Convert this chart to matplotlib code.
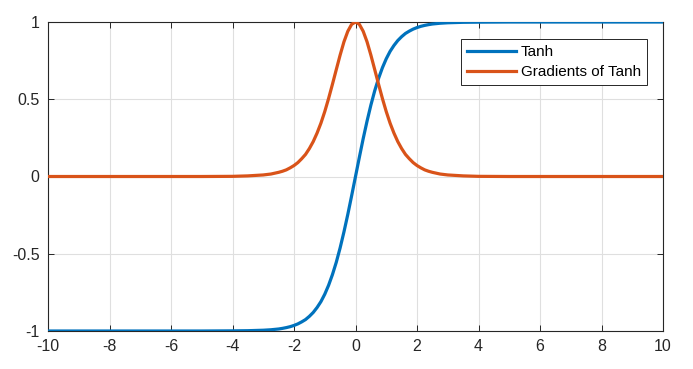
import matplotlib.pyplot as plt

# values
x = [-10, -8, -6, -5, -4, -3.5, -3, -2.75, -2.5, -2.375, -2.25, -2.125, -2,
     -1.875, -1.75, -1.625, -1.5, -1.375, -1.25, -1.125,
     -1, -0.875, -0.75, -0.625, -0.5, -0.375, -0.25, -0.125, 0,
     0.125, 0.25, 0.375, 0.5, 0.625, 0.75, 0.875, 1,
     1.125, 1.25, 1.375, 1.5, 1.625, 1.75, 1.875, 2, 2.125, 2.25, 2.375, 2.5,
     2.75, 3, 3.5, 4, 5, 6, 8, 10]
tanh_y = [-1.0, -1.0, -1.0, -1.0, -0.999, -0.998, -0.995, -0.992, -0.987, -0.983,
          -0.978, -0.972, -0.964, -0.954, -0.941, -0.926, -0.905, -0.880, -0.848,
          -0.810, -0.762, -0.704, -0.635, -0.555, -0.462, -0.358, -0.245, -0.124, 0.0,
          0.124, 0.245, 0.358, 0.462, 0.555, 0.635, 0.704, 0.762,
          0.810, 0.848, 0.880, 0.905, 0.926, 0.941, 0.954, 0.964, 0.972, 0.978,
          0.983, 0.987, 0.992, 0.995, 0.998, 0.999, 1.0, 1.0, 1.0, 1.0]
grad_y = [0.0, 0.0, 0.0, 0.0, 0.001, 0.004, 0.010, 0.016, 0.027, 0.034, 0.043,
          0.056, 0.071, 0.090, 0.115, 0.143, 0.181, 0.226, 0.281, 0.345,
          0.420, 0.505, 0.597, 0.692, 0.786, 0.872, 0.940, 0.985, 1.0,
          0.985, 0.940, 0.872, 0.786, 0.692, 0.597, 0.505, 0.420,
          0.345, 0.281, 0.226, 0.181, 0.143, 0.115, 0.090, 0.071, 0.056, 0.043,
          0.034, 0.027, 0.016, 0.010, 0.004, 0.001, 0.0, 0.0, 0.0, 0.0]

xticks = list(range(-10, 11, 2))
yticks = [-1, -0.5, 0, 0.5, 1]
ytick_labels = ['-1', '-0.5', '0', '0.5', '1']

plt.rcParams['font.family'] = ['Liberation Sans', 'DejaVu Sans']

fig = plt.figure(figsize=(6.93, 3.69), dpi=100)
ax = fig.add_axes([48 / 693, 1 - 331 / 369, 615 / 693, 309 / 369])

ax.plot(x, tanh_y, color='#0072BD', lw=2.3, label='Tanh', zorder=3,
        solid_joinstyle='round')
ax.plot(x, grad_y, color='#D95319', lw=2.3, label='Gradients of Tanh', zorder=3,
        solid_joinstyle='round')

ax.set_xlim(-10, 10)
ax.set_ylim(-1, 1)
ax.set_xticks(xticks)
ax.set_xticklabels([str(t) for t in xticks])
ax.set_yticks(yticks)
ax.set_yticklabels(ytick_labels)
ax.grid(True, color='#dfdfdf', lw=0.8, zorder=0)
ax.tick_params(direction='in', top=True, right=True, length=4, width=0.7,
               colors='#262626', labelsize=11.5, pad=6)
for s in ax.spines.values():
    s.set_color('#262626')
    s.set_linewidth(0.8)

leg = ax.legend(loc='upper right', bbox_to_anchor=(0.974, 0.945), borderaxespad=0,
                fancybox=False, framealpha=1, edgecolor='#262626', fontsize=11,
                handlelength=3.2, handletextpad=0.3, borderpad=0.4, labelspacing=0.4)
leg.get_frame().set_linewidth(0.7)

fig.savefig('out.png', dpi=100)
